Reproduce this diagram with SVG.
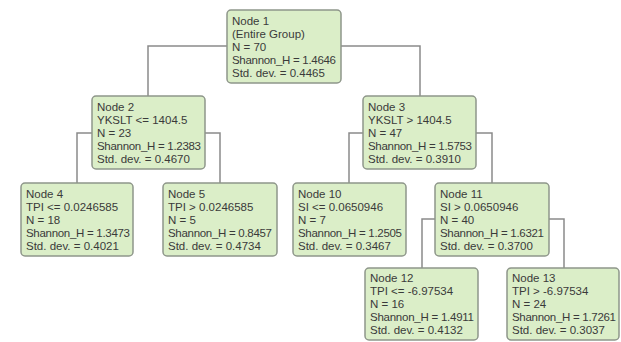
<svg xmlns="http://www.w3.org/2000/svg" width="621" height="342" viewBox="0 0 621 342">
<style>
.box{fill:#dbeec8;stroke:#8e968a;stroke-width:1.5}
.t{font-family:"Liberation Sans",Arial,sans-serif;font-size:11.5px;fill:#3a3a3a}
.c{fill:none;stroke:#8a8a8a;stroke-width:1.5}
</style>
<rect width="621" height="342" fill="#ffffff"/>
<g id="connectors">
<polyline class="c" points="227,46 148,46 148,96"/>
<polyline class="c" points="341,46 420,46 420,96"/>
<polyline class="c" points="92,133 77,133 77,183"/>
<polyline class="c" points="204,133 220,133 220,183"/>
<polyline class="c" points="363,133 349,133 349,183"/>
<polyline class="c" points="476,133 492,133 492,183"/>
<polyline class="c" points="435,219 422,219 422,268"/>
<polyline class="c" points="549,219 564,219 564,268"/>
</g>
<g id="node1">
<rect class="box" x="227" y="10" width="114" height="73" rx="4"/>
<text class="t" x="232" y="24.5">Node 1</text>
<text class="t" x="232" y="37.5">(Entire Group)</text>
<text class="t" x="232" y="50.5">N = 70</text>
<text class="t" x="232" y="63.5" textLength="104">Shannon_H = 1.4646</text>
<text class="t" x="232" y="76.5">Std. dev. = 0.4465</text>
</g>
<g id="node2">
<rect class="box" x="92" y="96" width="113" height="73" rx="4"/>
<text class="t" x="97" y="110.5">Node 2</text>
<text class="t" x="97" y="123.5">YKSLT &lt;= 1404.5</text>
<text class="t" x="97" y="136.5">N = 23</text>
<text class="t" x="97" y="149.5" textLength="104">Shannon_H = 1.2383</text>
<text class="t" x="97" y="162.5">Std. dev. = 0.4670</text>
</g>
<g id="node3">
<rect class="box" x="363" y="96" width="113" height="73" rx="4"/>
<text class="t" x="368" y="110.5">Node 3</text>
<text class="t" x="368" y="123.5">YKSLT &gt; 1404.5</text>
<text class="t" x="368" y="136.5">N = 47</text>
<text class="t" x="368" y="149.5" textLength="104">Shannon_H = 1.5753</text>
<text class="t" x="368" y="162.5">Std. dev. = 0.3910</text>
</g>
<g id="node4">
<rect class="box" x="21" y="183" width="112" height="73" rx="4"/>
<text class="t" x="26" y="197.5">Node 4</text>
<text class="t" x="26" y="210.5">TPI &lt;= 0.0246585</text>
<text class="t" x="26" y="223.5">N = 18</text>
<text class="t" x="26" y="236.5" textLength="104">Shannon_H = 1.3473</text>
<text class="t" x="26" y="249.5">Std. dev. = 0.4021</text>
</g>
<g id="node5">
<rect class="box" x="163" y="183" width="114" height="73" rx="4"/>
<text class="t" x="168" y="197.5">Node 5</text>
<text class="t" x="168" y="210.5">TPI &gt; 0.0246585</text>
<text class="t" x="168" y="223.5">N = 5</text>
<text class="t" x="168" y="236.5" textLength="104">Shannon_H = 0.8457</text>
<text class="t" x="168" y="249.5">Std. dev. = 0.4734</text>
</g>
<g id="node10">
<rect class="box" x="293" y="183" width="113" height="73" rx="4"/>
<text class="t" x="298" y="197.5">Node 10</text>
<text class="t" x="298" y="210.5">SI &lt;= 0.0650946</text>
<text class="t" x="298" y="223.5">N = 7</text>
<text class="t" x="298" y="236.5" textLength="104">Shannon_H = 1.2505</text>
<text class="t" x="298" y="249.5">Std. dev. = 0.3467</text>
</g>
<g id="node11">
<rect class="box" x="435" y="183" width="114" height="73" rx="4"/>
<text class="t" x="440" y="197.5">Node 11</text>
<text class="t" x="440" y="210.5">SI &gt; 0.0650946</text>
<text class="t" x="440" y="223.5">N = 40</text>
<text class="t" x="440" y="236.5" textLength="104">Shannon_H = 1.6321</text>
<text class="t" x="440" y="249.5">Std. dev. = 0.3700</text>
</g>
<g id="node12">
<rect class="box" x="365" y="268" width="113" height="72" rx="4"/>
<text class="t" x="370" y="282">Node 12</text>
<text class="t" x="370" y="295">TPI &lt;= -6.97534</text>
<text class="t" x="370" y="308">N = 16</text>
<text class="t" x="370" y="321" textLength="104">Shannon_H = 1.4911</text>
<text class="t" x="370" y="334">Std. dev. = 0.4132</text>
</g>
<g id="node13">
<rect class="box" x="507" y="268" width="112" height="72" rx="4"/>
<text class="t" x="512" y="282">Node 13</text>
<text class="t" x="512" y="295">TPI &gt; -6.97534</text>
<text class="t" x="512" y="308">N = 24</text>
<text class="t" x="512" y="321" textLength="104">Shannon_H = 1.7261</text>
<text class="t" x="512" y="334">Std. dev. = 0.3037</text>
</g>
</svg>
